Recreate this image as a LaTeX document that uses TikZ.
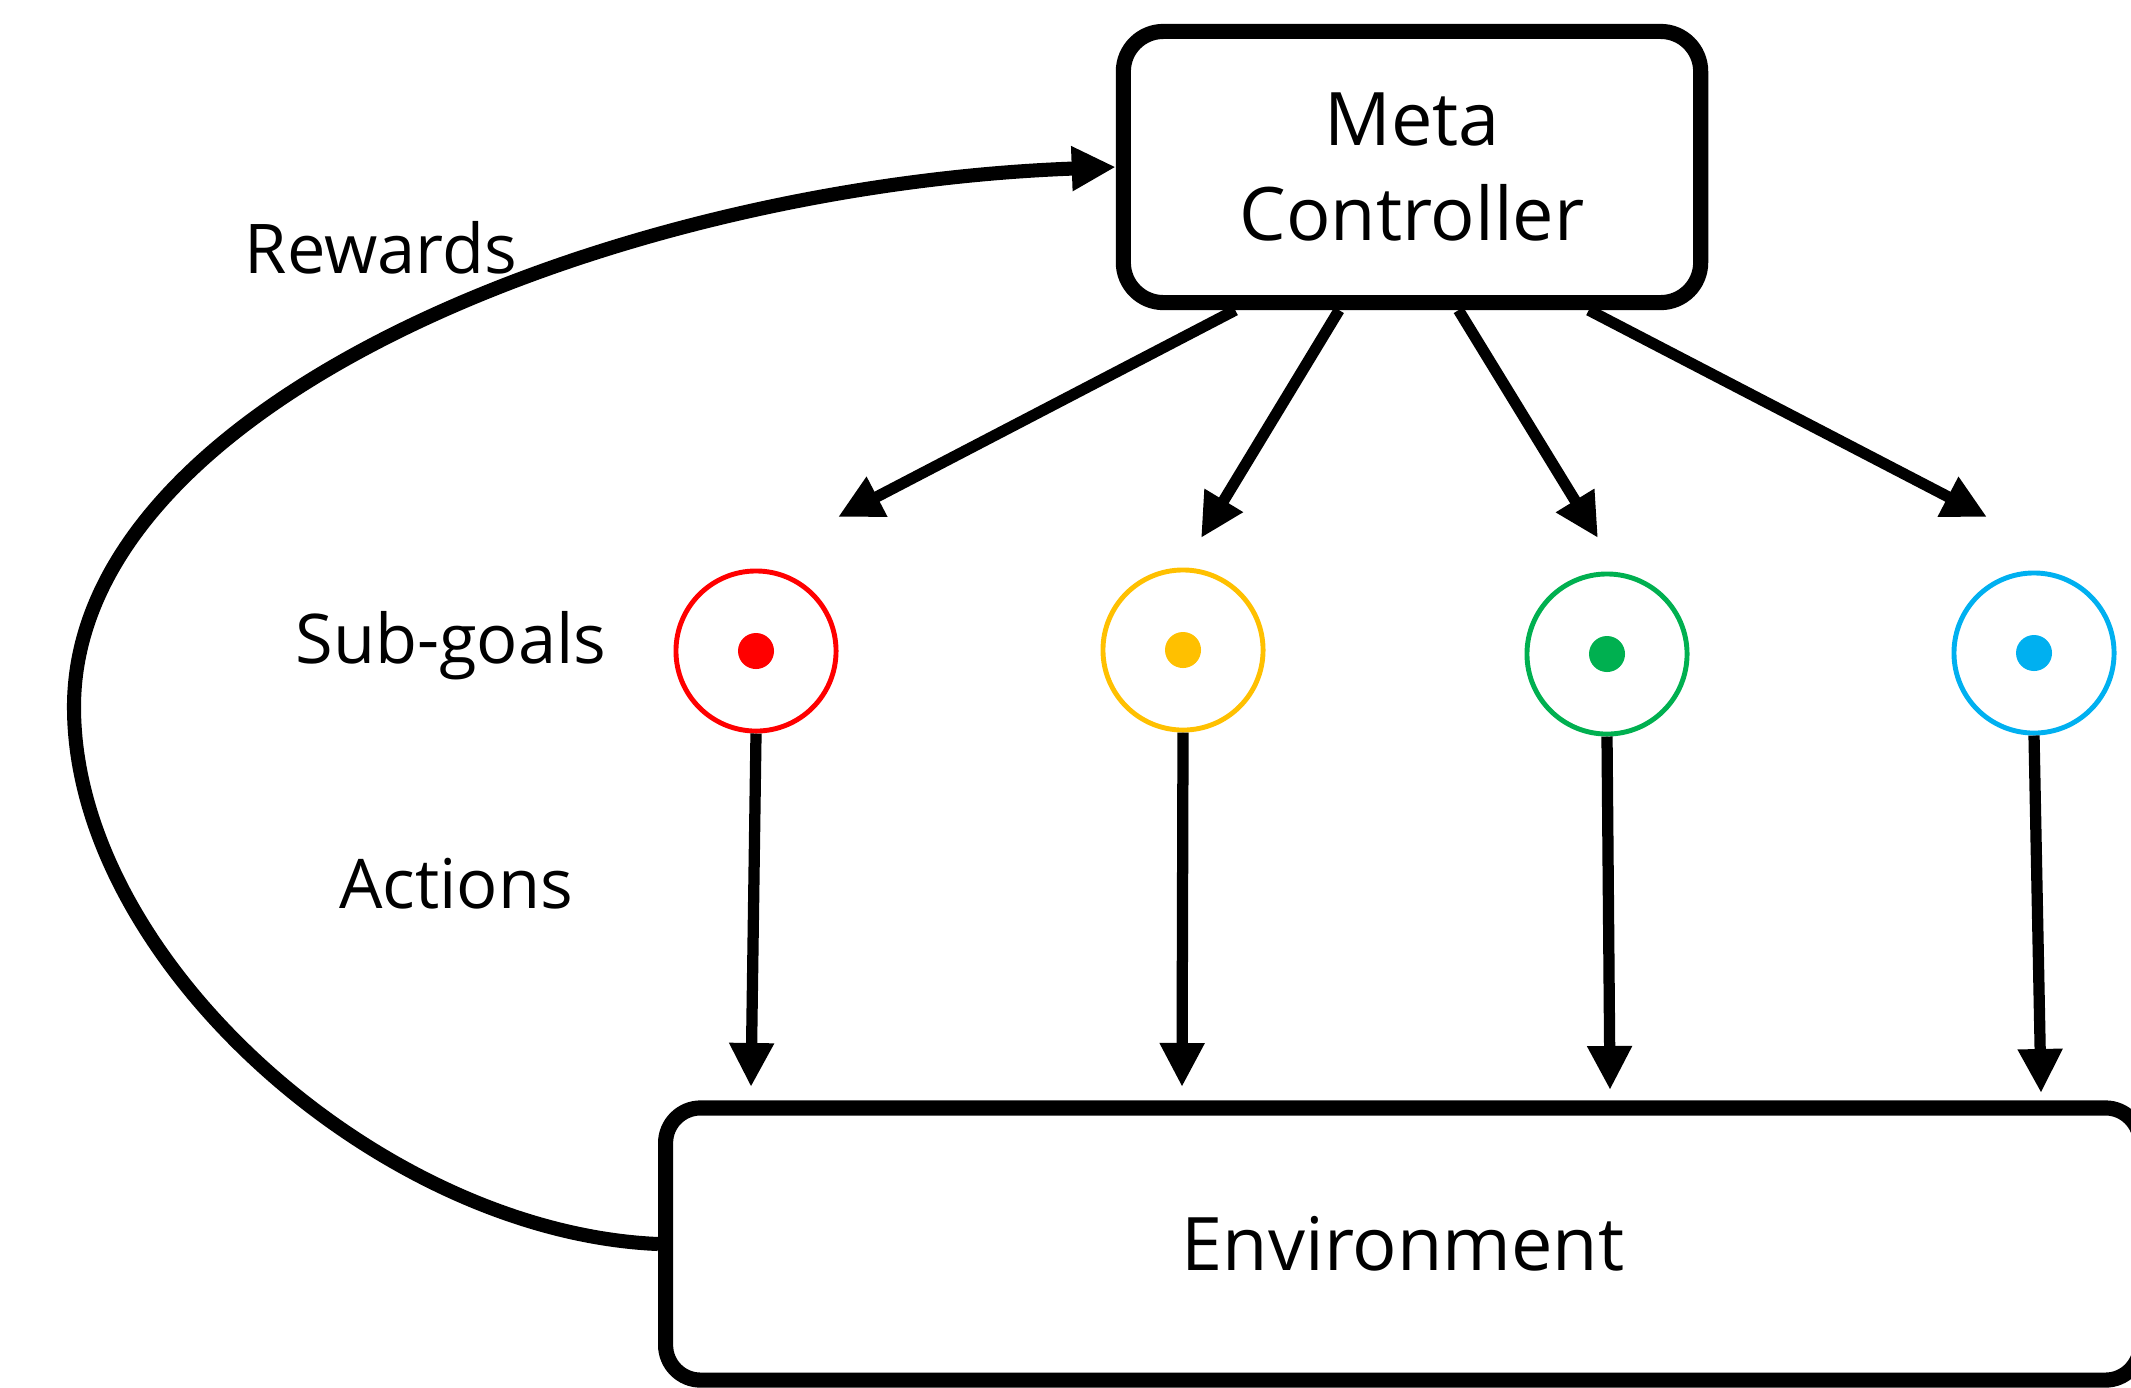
\documentclass[tikz,border=0pt]{standalone}
\usepackage{fontspec}
\setmainfont{Open Sans}
\usetikzlibrary{arrows.meta}
\definecolor{goalred}{HTML}{FF0000}
\definecolor{goalyellow}{HTML}{FFC000}
\definecolor{goalgreen}{HTML}{00B050}
\definecolor{goalblue}{HTML}{00B0F0}
\tikzstyle{box} = [draw, line width=4.3pt, rounded corners=0.4cm, align=center, font=\fontsize{21}{27}\selectfont]
\tikzstyle{goal} = [circle, draw, line width=1.4pt, minimum size=1.6cm, inner sep=0pt]
\tikzstyle{dot} = [circle, minimum size=0.36cm, inner sep=0pt]
\tikzstyle{lbl} = [anchor=base, font=\fontsize{19.5}{23}\selectfont]
\tikzstyle{arr} = [line width=3.2pt, -{Triangle[length=0.44cm, width=0.42cm]}]

\begin{document}
\begin{tikzpicture}[x=0.01cm, y=-0.01cm] % one unit = one pixel, y down
    \useasboundingbox (0,0) rectangle (2131,1387);
    % the two boxes
    \node[box, minimum width=5.77cm, minimum height=2.71cm] (meta) at (1412,167) {Meta\\Controller};
    \node[box, minimum width=14.74cm, minimum height=2.72cm, rounded corners=0.35cm] (env) at (1403,1244) {Environment};
    % sub-goals
    \foreach \name/\x/\y/\col in {g1/756/651/goalred, g2/1183/650/goalyellow,
                                   g3/1607/654/goalgreen, g4/2034/653/goalblue} {
        \node[goal, draw=\col] (\name) at (\x,\y) {};
        \node[dot, fill=\col] (\name dot) at (\name) {};
    }
    % free ends of the arrows
    \coordinate (t1) at (838,517);
    \coordinate (t2) at (1201,538);
    \coordinate (t3) at (1598,538);
    \coordinate (t4) at (1987,517);
    \coordinate (a1) at (751,1087);
    \coordinate (a2) at (1182,1087);
    \coordinate (a3) at (1610,1090);
    \coordinate (a4) at (2041,1093);
    \coordinate (bend) at (74,707);
    \foreach \ang/\i in {219/1, 243/2, 288/3, 321/4}
        \draw[arr] (meta.\ang) -- (t\i);
    \foreach \i in {1,...,4}
        \draw[arr] (g\i.south) -- (a\i);
    % rewards loop
    \draw[arr, line width=4pt] (env.west) .. controls (380,1232) and (74,960) .. (bend)
        .. controls (74,400) and (620,185) .. (meta.west);
    % labels
    \node[lbl] (rewards) at (381,273) {Rewards};
    \node[lbl] (subgoals) at (451,663) {Sub-goals};
    \node[lbl] (actions) at (456,908) {Actions};
\end{tikzpicture}
\end{document}
